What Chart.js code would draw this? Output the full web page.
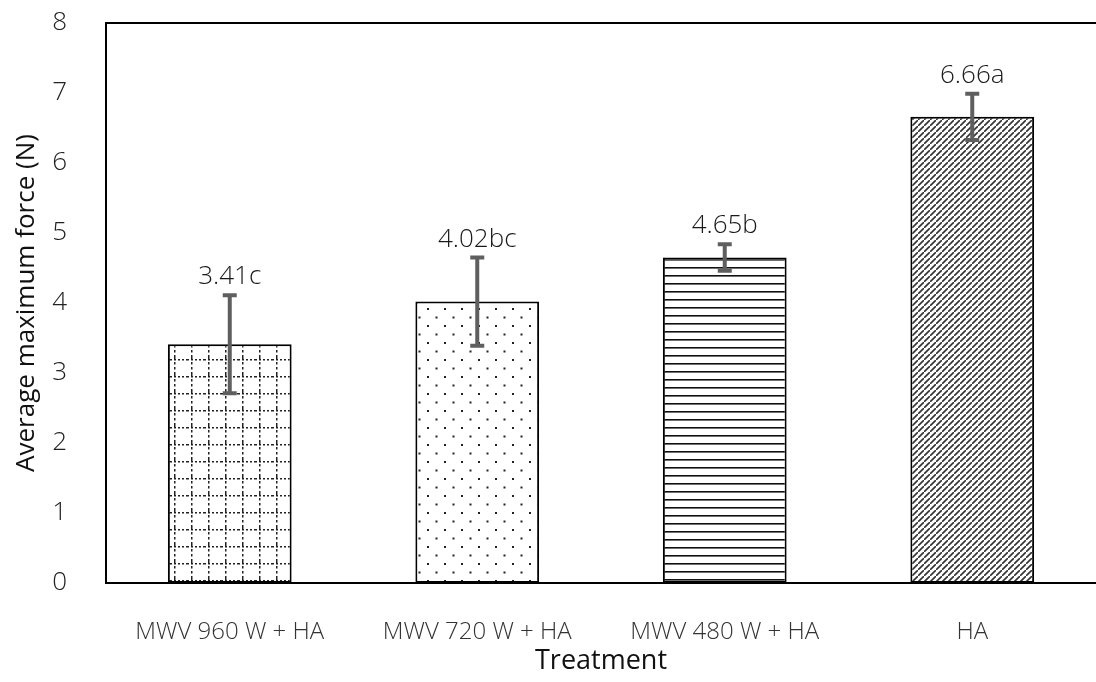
<!DOCTYPE html>
<html>
<head>
<meta charset="utf-8">
<script src="https://cdn.jsdelivr.net/npm/chart.js@4/dist/chart.umd.min.js"></script>
<style>
  html, body { margin: 0; padding: 0; background: #ffffff; }
  #wrap { width: 1096px; height: 682px; }
</style>
</head>
<body>
<div id="wrap"><canvas id="c" width="1096" height="682"></canvas></div>
<script>
const categories = ['MWV 960 W + HA', 'MWV 720 W + HA', 'MWV 480 W + HA', 'HA'];
const means = [3.41, 4.02, 4.65, 6.66];
const errors = [0.70, 0.63, 0.19, 0.33];
const letterLabels = ['3.41c', '4.02bc', '4.65b', '6.66a'];
const yTicks = [0, 1, 2, 3, 4, 5, 6, 7, 8];

const FONT = '"Open Sans", "Noto Sans", sans-serif';

function makeTile(w, h, draw) {
  const c = document.createElement('canvas');
  c.width = w; c.height = h;
  const g = c.getContext('2d');
  g.fillStyle = '#ffffff';
  g.fillRect(0, 0, w, h);
  draw(g);
  return document.getElementById('c').getContext('2d').createPattern(c, 'repeat');
}

// grid of dotted lines
const patGrid = makeTile(17, 17, g => {
  g.fillStyle = '#222';
  for (let x = 0; x < 17; x += 4) g.fillRect(x, 2, 2, 1.5);
  for (let y = 0; y < 17; y += 5) g.fillRect(4, y, 1.5, 2.5);
});
// staggered dots
const patDots = makeTile(17, 17, g => {
  g.fillStyle = '#222';
  g.fillRect(2, 2, 2, 2);
  g.fillRect(10.5, 10.5, 2, 2);
});
// horizontal lines
const patLines = makeTile(8, 8, g => {
  g.fillStyle = '#111';
  g.fillRect(0, 3, 8, 1.6);
});
// diagonal dashed lines
const patDiag = makeTile(6, 6, g => {
  g.strokeStyle = '#333';
  g.lineWidth = 1.6;
  g.beginPath();
  g.moveTo(-1, 7); g.lineTo(7, -1);
  g.stroke();
});

const errPlugin = {
  id: 'errbars',
  afterDatasetsDraw(chart) {
    const ctx = chart.ctx;
    const meta = chart.getDatasetMeta(0);
    const y = chart.scales.y;
    ctx.save();
    meta.data.forEach((bar, i) => {
      const x = bar.x;
      const yHi = y.getPixelForValue(means[i] + errors[i]);
      const yLo = y.getPixelForValue(means[i] - errors[i]);
      ctx.strokeStyle = '#5f5f5f';
      ctx.lineWidth = 4;
      ctx.beginPath();
      ctx.moveTo(x, yHi); ctx.lineTo(x, yLo);
      ctx.moveTo(x - 7, yHi); ctx.lineTo(x + 7, yHi);
      ctx.moveTo(x - 7, yLo); ctx.lineTo(x + 7, yLo);
      ctx.stroke();
      ctx.fillStyle = '#1a1a1a';
      ctx.font = '300 26px ' + FONT;
      ctx.textAlign = 'center';
      ctx.textBaseline = 'alphabetic';
      ctx.fillText(letterLabels[i], x, yHi - 11);
    });
    // top frame line
    const a = chart.chartArea;
    ctx.strokeStyle = '#000';
    ctx.lineWidth = 2;
    ctx.beginPath();
    ctx.moveTo(a.left, a.top); ctx.lineTo(a.right, a.top);
    ctx.stroke();
    ctx.restore();
  }
};

new Chart(document.getElementById('c'), {
  type: 'bar',
  data: {
    labels: categories,
    datasets: [{
      data: means,
      backgroundColor: [patGrid, patDots, patLines, patDiag],
      borderColor: '#000',
      borderWidth: 2,
      borderSkipped: false,
      barPercentage: 1,
      categoryPercentage: 0.5
    }]
  },
  options: {
    responsive: false,
    animation: false,
    devicePixelRatio: 1,
    layout: { padding: { top: 23, right: 0, left: 0, bottom: 0 } },
    plugins: { legend: { display: false }, tooltip: { enabled: false } },
    scales: {
      x: {
        grid: { display: false, drawTicks: true, tickLength: 35 },
        border: { display: true, color: '#000', width: 2 },
        ticks: { color: '#333', font: { family: FONT, size: 24, weight: '300' }, padding: 0, maxRotation: 0, autoSkip: false },
        title: { display: true, text: 'Treatment', color: '#111', font: { family: FONT, size: 27 }, padding: { top: 0, bottom: 4 } },
        afterFit(s) { s.height = 99; }
      },
      y: {
        min: 0, max: 8,
        afterBuildTicks(s) { s.ticks = yTicks.map(v => ({ value: v })); },
        grid: { display: false, drawTicks: true, tickLength: 39 },
        border: { display: true, color: '#000', width: 2 },
        ticks: { color: '#222', font: { family: FONT, size: 26, weight: '300' }, padding: 0 },
        title: { display: true, text: 'Average maximum force (N)', color: '#111', font: { family: FONT, size: 26 }, padding: { top: 11, bottom: 0 } },
        afterFit(s) { s.width = 106; }
      }
    }
  },
  plugins: [errPlugin]
});
</script>
</body>
</html>
